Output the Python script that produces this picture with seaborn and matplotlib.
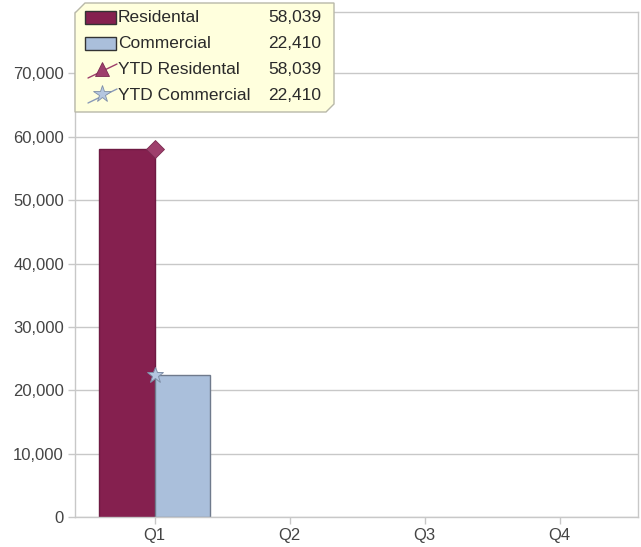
import matplotlib
matplotlib.use("Agg")
import matplotlib.pyplot as plt
import matplotlib.ticker as mticker
from matplotlib.patches import Polygon, Rectangle
from matplotlib.lines import Line2D
from matplotlib.colors import to_hex
import numpy as np
import pandas as pd
import seaborn as sns

# Quarterly data
quarters = ["Q1", "Q2", "Q3", "Q4"]
residental = [58039, np.nan, np.nan, np.nan]
commercial = [22410, np.nan, np.nan, np.nan]
ytd_residental = [58039, np.nan, np.nan, np.nan]
ytd_commercial = [22410, np.nan, np.nan, np.nan]
series_names = ["Residental", "Commercial", "YTD Residental", "YTD Commercial"]
y_ticks = [0, 10000, 20000, 30000, 40000, 50000, 60000, 70000]

RES_COLOR = "#85204F"
COM_COLOR = "#AABFDB"
RES_MARK = "#9E3F6C"
COM_MARK = "#B4C6E0"
EDGE = {RES_COLOR.lower(): "#6e1a42", COM_COLOR.lower(): "#6f7a8c"}

sns.set_theme(style="white")
plt.rcParams["font.family"] = ["Liberation Sans", "DejaVu Sans"]

W, H = 641, 547
FS = 12
LEG_FS = 12.5
fig = plt.figure(figsize=(W / 100, H / 100), dpi=100)
ax = fig.add_axes([75 / W, 1 - 517 / H, (638 - 75) / W, (517 - 12) / H])

df = pd.DataFrame({
    "quarter": quarters * 2,
    "series": [series_names[0]] * 4 + [series_names[1]] * 4,
    "value": residental + commercial,
})
sns.barplot(data=df, x="quarter", y="value", hue="series", order=quarters,
            hue_order=series_names[:2], palette=[RES_COLOR, COM_COLOR],
            saturation=1, width=0.82, linewidth=1, legend=False, ax=ax)
for p in ax.patches:
    p.set_edgecolor(EDGE.get(to_hex(p.get_facecolor()).lower(), "#555555"))

# YTD markers on the category positions
xpos = np.arange(len(quarters))
ax.plot(xpos, ytd_residental, marker="D", markersize=9, color=RES_MARK,
        markeredgecolor="#7a2a50", markeredgewidth=0.6, linestyle="none", zorder=5)
ax.plot(xpos, ytd_commercial, marker="*", markersize=12, color=COM_MARK,
        markeredgecolor="#7f8fa8", markeredgewidth=0.7, linestyle="none", zorder=5)

ax.set_xlim(-0.59, 3.58)
ax.set_ylim(0, 79700)
ax.set_yticks(y_ticks)
ax.yaxis.set_major_formatter(mticker.FuncFormatter(lambda v, _: f"{int(v):,}"))
ax.set_xlabel("")
ax.set_ylabel("")
ax.grid(axis="y", color="#c8c8c8", linewidth=1)
ax.set_axisbelow(True)
for s in ax.spines.values():
    s.set_color("#c8c8c8")
    s.set_linewidth(1)
ax.tick_params(axis="both", colors="#c8c8c8", labelcolor="#444444",
               labelsize=FS, length=5, width=1, direction="out", pad=3,
               bottom=True, left=True)

# Legend box with clipped corners and value column
def px(x, y):
    return (x / W, 1 - y / H)

box = [px(85, 3), px(334, 3), px(334, 104), px(326, 112), px(75, 112), px(75, 13)]
fig.patches.append(Polygon(box, closed=True, transform=fig.transFigure,
                           facecolor="#FFFFDD", edgecolor="#b8b8a8", linewidth=1,
                           zorder=10))

row_y = [18, 44, 70, 95]
values = [residental[0], commercial[0], ytd_residental[0], ytd_commercial[0]]
for i, (name, val, y) in enumerate(zip(series_names, values, row_y)):
    if i < 2:
        x0, y0 = px(85, y + 6)
        fig.patches.append(Rectangle((x0, y0), 31 / W, 13 / H,
                                     transform=fig.transFigure,
                                     facecolor=[RES_COLOR, COM_COLOR][i],
                                     edgecolor="#333333", linewidth=1, zorder=11))
    else:
        (lx0, ly0), (lx1, ly1) = px(88, y + 8), px(117, y - 6)
        fig.lines.append(Line2D([lx0, lx1], [ly0, ly1], transform=fig.transFigure,
                                color=[RES_MARK, "#8a9ab8"][i - 2], linewidth=1,
                                zorder=11))
        mx, my = px(102, y - 1)
        fig.lines.append(Line2D([mx], [my], transform=fig.transFigure,
                                marker=["^", "*"][i - 2],
                                markersize=[10, 13][i - 2],
                                color=[RES_MARK, COM_MARK][i - 2],
                                markeredgecolor=["#7a2a50", "#7f8fa8"][i - 2],
                                markeredgewidth=0.6, linestyle="none", zorder=12))
    tx, ty = px(118, y)
    fig.text(tx, ty, name, ha="left", va="center", fontsize=LEG_FS,
             color="#2a2a2a", zorder=13)
    vx, vy = px(321, y)
    fig.text(vx, vy, f"{int(val):,}", ha="right", va="center", fontsize=LEG_FS,
             color="#2a2a2a", zorder=13)

fig.savefig("out.png", dpi=100)
